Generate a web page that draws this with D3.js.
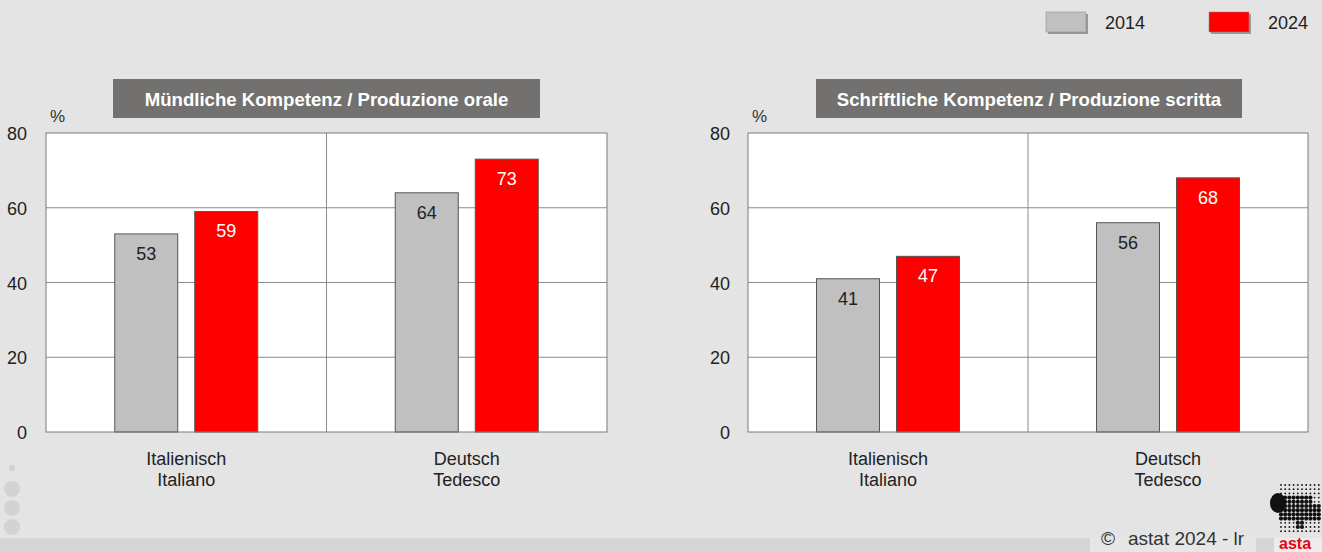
<!DOCTYPE html>
<html>
<head>
<meta charset="utf-8">
<script src="https://cdn.jsdelivr.net/npm/d3@7/dist/d3.min.js"></script>
<style>
body { margin: 0; background: #e4e4e4; }
svg { display: block; font-family: "Liberation Sans", Arial, sans-serif; }
</style>
</head>
<body>
<svg id="chart" width="1322" height="552"></svg>
<script>
var categories = [['Italienisch', 'Italiano'], ['Deutsch', 'Tedesco']];
var years = ['2014', '2024'];
var oral = [[53, 59], [64, 73]];
var written = [[41, 47], [56, 68]];
var yTicks = [0, 20, 40, 60, 80];
var titles = ['Mündliche Kompetenz / Produzione orale', 'Schriftliche Kompetenz / Produzione scritta'];
var colors = ['#c0c0c0', '#ff0000'];
var labelColors = ['#222', '#fff'];

var svg = d3.select('#chart');

// bottom strip, interrupted by the copyright box
svg.append('rect').attr('x', 0).attr('y', 538).attr('width', 1322).attr('height', 14).attr('fill', '#d5d5d5');
svg.append('rect').attr('x', 1090).attr('y', 538).attr('width', 166).attr('height', 14).attr('fill', '#e6e6e6');
svg.append('rect').attr('x', 1274).attr('y', 538).attr('width', 48).attr('height', 14).attr('fill', '#ececec');

// decorative dots on the left
svg.append('circle').attr('cx', 12).attr('cy', 468).attr('r', 3).attr('fill', '#d0d0d0');
[489, 508, 527].forEach(function(cy) {
    svg.append('circle').attr('cx', 12).attr('cy', cy).attr('r', 8).attr('fill', '#d3d3d3');
});

function drawPanel(x0, x1, data, title, tickX, titleX0, titleX1)
{
    var y = d3.scaleLinear().domain([0, 80]).range([432, 133]);
    var xCat = d3.scaleBand().domain([0, 1]).range([x0, x1]);
    var g = svg.append('g');

    g.append('rect').attr('x', x0).attr('y', y(80)).attr('width', x1 - x0).attr('height', y(0) - y(80))
        .attr('fill', '#fff');

    // grid
    g.selectAll('.grid').data(yTicks.slice(1, 4)).enter().append('line')
        .attr('x1', x0).attr('x2', x1)
        .attr('y1', function(d) { return y(d); }).attr('y2', function(d) { return y(d); })
        .attr('stroke', '#8c8c8c').attr('stroke-width', 1);

    // category divider
    g.append('line').attr('x1', xCat(1)).attr('x2', xCat(1)).attr('y1', y(80)).attr('y2', y(0))
        .attr('stroke', '#8c8c8c');

    // bars
    var xYear = d3.scaleBand().domain([0, 1]).range([0, 143]).paddingInner(0.2125);
    for (var c = 0; c < data.length; c++) {
        var gx = xCat(c) + (xCat.bandwidth() - 143) / 2;
        for (var s = 0; s < years.length; s++) {
            var v = data[c][s];
            g.append('rect')
                .attr('x', gx + xYear(s)).attr('y', y(v))
                .attr('width', xYear.bandwidth()).attr('height', y(0) - y(v))
                .attr('fill', colors[s]).attr('stroke', '#555').attr('stroke-width', 1);
            g.append('text')
                .attr('x', gx + xYear(s) + xYear.bandwidth() / 2).attr('y', y(v) + 26)
                .attr('text-anchor', 'middle').attr('font-size', 18)
                .attr('fill', labelColors[s]).text(v);
        }
        g.append('text').attr('x', xCat(c) + xCat.bandwidth() / 2).attr('y', 465)
            .attr('text-anchor', 'middle').attr('font-size', 18).attr('fill', '#222')
            .text(categories[c][0]);
        g.append('text').attr('x', xCat(c) + xCat.bandwidth() / 2).attr('y', 486)
            .attr('text-anchor', 'middle').attr('font-size', 18).attr('fill', '#222')
            .text(categories[c][1]);
    }

    // frame
    g.append('rect').attr('x', x0).attr('y', y(80)).attr('width', x1 - x0).attr('height', y(0) - y(80))
        .attr('fill', 'none').attr('stroke', '#7a7a7a');

    // y tick labels
    g.selectAll('.tick').data(yTicks).enter().append('text')
        .attr('x', tickX).attr('y', function(d) { return y(d) + 7; })
        .attr('text-anchor', 'end').attr('font-size', 18).attr('fill', '#222')
        .text(function(d) { return d; });

    g.append('text').attr('x', x0 + 4).attr('y', 122).attr('font-size', 17).attr('fill', '#333').text('%');

    // title box
    g.append('rect').attr('x', titleX0).attr('y', 79).attr('width', titleX1 - titleX0).attr('height', 39)
        .attr('fill', '#727170');
    g.append('text').attr('x', (titleX0 + titleX1) / 2).attr('y', 106)
        .attr('text-anchor', 'middle').attr('font-size', 18.6).attr('font-weight', 'bold')
        .attr('fill', '#fff').text(title);
}

drawPanel(46, 607, oral, titles[0], 27, 113, 540);
drawPanel(748, 1308, written, titles[1], 730, 816, 1242);

// legend
var legX = [1046, 1209];
years.forEach(function(yr, i) {
    svg.append('rect').attr('x', legX[i] + 2).attr('y', 14).attr('width', 40).attr('height', 20).attr('fill', '#999');
    svg.append('rect').attr('x', legX[i]).attr('y', 12).attr('width', 40).attr('height', 20)
        .attr('fill', colors[i]).attr('stroke', '#888').attr('stroke-width', 0.5);
    svg.append('text').attr('x', legX[i] + 59).attr('y', 29).attr('font-size', 18).attr('fill', '#222').text(yr);
});

// copyright
var copy = svg.append('text').attr('y', 545).attr('font-size', 19).attr('fill', '#333');
copy.append('tspan').attr('x', 1101).text('©');
copy.append('tspan').attr('x', 1128).text('astat 2024 - lr');

// logo (approximation)
var logo = svg.append('g');
for (var i = 0; i < 10; i++) {
    for (var j = 0; j < 12; j++) {
        var cx = 1281 + i * 4.2, cy = 485 + j * 4.2;
        var dark = (j > 2 && j < 9 && (i < 8 || j > 4)) || (i > 3 && i < 6 && j < 11 && j > 2);
        logo.append('circle').attr('cx', cx).attr('cy', cy).attr('r', dark ? 2.1 : 0.9).attr('fill', '#111');
    }
}
logo.append('ellipse').attr('cx', 1278).attr('cy', 503).attr('rx', 8).attr('ry', 10).attr('fill', '#111');
logo.append('text').attr('x', 1279).attr('y', 549).attr('font-size', 16).attr('font-weight', 'bold')
    .attr('fill', '#e30613').text('asta');
</script>
</body>
</html>
